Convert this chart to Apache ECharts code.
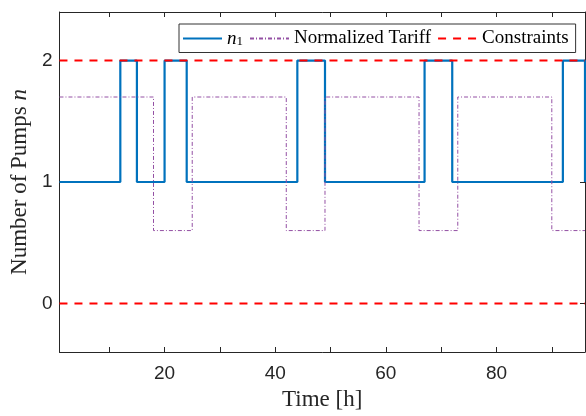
<!DOCTYPE html>
<html><head><meta charset="utf-8">
<script src="https://cdn.jsdelivr.net/npm/echarts@6/dist/echarts.min.js"></script>
<style>html,body{margin:0;padding:0;background:#fff}#c{width:586px;height:416px}</style>
</head><body><div id="c"></div>
<script>
// ---- data ----
const n1Times = [1, 12, 15, 20, 24, 44, 49, 67, 72, 92, 96];
const n1Values = [1, 2, 1, 2, 1, 2, 1, 2, 1, 2, 1];
const tariffTimes = [1, 18, 25, 42, 49, 66, 73, 90, 96];
const tariffValues = [1.7, 0.6, 1.7, 0.6, 1.7, 0.6, 1.7, 0.6, 0.6];
const constraintLevels = [2, 0];
const timeRange = [1, 96];
const yRange = [-0.4, 2.4];
const xTickValues = [10, 20, 30, 40, 50, 60, 70, 80, 90];
const xLabelValues = [20, 40, 60, 80];
const yTickValues = [0, 1, 2];
const seriesNames = ['n1', 'Normalized Tariff', 'Constraints'];

// ---- chart ----
const serif = '"Liberation Serif", "DejaVu Serif", serif';
const sans = '"Liberation Sans", Arial, sans-serif';
const axisColor = '#262626';

const zip = (xs, ys) => xs.map((x, i) => [x, ys[i]]);

const baseX = {
  type: 'value', min: timeRange[0], max: timeRange[1],
  axisLine: { show: true, onZero: false, lineStyle: { color: axisColor, width: 1 } },
  axisTick: { show: true, inside: true, length: 5, customValues: xTickValues, lineStyle: { color: axisColor } },
  splitLine: { show: false }
};
const baseY = {
  type: 'value', min: yRange[0], max: yRange[1],
  axisLine: { show: true, onZero: false, lineStyle: { color: axisColor, width: 1 } },
  axisTick: { show: true, inside: true, length: 5, customValues: yTickValues, lineStyle: { color: axisColor } },
  splitLine: { show: false }
};

const series = [
  {
    name: seriesNames[0], type: 'line', step: 'end', symbol: 'none',
    data: zip(n1Times, n1Values),
    lineStyle: { color: '#0072BD', width: 2.2 }, itemStyle: { color: '#0072BD' }, z: 2
  },
  {
    name: seriesNames[1], type: 'line', step: 'end', symbol: 'none',
    data: zip(tariffTimes, tariffValues),
    lineStyle: { color: '#9450A4', width: 1, type: [4, 2, 1, 2] }, itemStyle: { color: '#9450A4' }, z: 3
  }
];
constraintLevels.forEach(level => {
  series.push({
    name: seriesNames[2], type: 'line', symbol: 'none',
    data: [[timeRange[0], level], [timeRange[1], level]],
    lineStyle: { color: '#FF0000', width: 2, type: [8, 7] }, itemStyle: { color: '#FF0000' }, z: 4
  });
});

const option = {
  animation: false,
  backgroundColor: '#ffffff',
  grid: { left: 58, right: 1, top: 12, bottom: 60, containLabel: false },
  xAxis: [
    Object.assign({}, baseX, {
      position: 'bottom',
      axisLabel: { show: true, customValues: xLabelValues, margin: 12, color: axisColor, fontFamily: sans, fontSize: 19 },
      name: 'Time [h]', nameLocation: 'middle', nameGap: 36,
      nameTextStyle: { fontFamily: serif, fontSize: 23, color: axisColor }
    }),
    Object.assign({}, baseX, { position: 'top', axisLabel: { show: false } })
  ],
  yAxis: [
    Object.assign({}, baseY, {
      position: 'left',
      axisLabel: { show: true, customValues: yTickValues, margin: 7, color: axisColor, fontFamily: sans, fontSize: 19 },
      name: 'Number of Pumps {i|n}', nameLocation: 'middle', nameGap: 23,
      nameTextStyle: {
        fontFamily: serif, fontSize: 23, color: axisColor,
        rich: { i: { fontFamily: serif, fontSize: 23, fontStyle: 'italic', color: axisColor } }
      }
    }),
    Object.assign({}, baseY, { position: 'right', axisLabel: { show: false } })
  ],
  legend: {
    data: seriesNames,
    left: 179, top: 24,
    orient: 'horizontal',
    itemWidth: 39, itemHeight: 14, itemGap: 6,
    padding: [5, 7, 4, 3],
    borderColor: '#333333', borderWidth: 1, backgroundColor: '#ffffff',
    itemStyle: { opacity: 0 },
    textStyle: {
      fontFamily: serif, fontSize: 19, color: '#000',
      rich: {
        i: { fontFamily: serif, fontSize: 19, fontStyle: 'italic', color: '#000' },
        s: { fontFamily: serif, fontSize: 13, color: '#000', padding: [7, 0, 0, 0] },
        t: { fontFamily: serif, fontSize: 19, color: '#000' }
      }
    },
    formatter: name => name === 'n1' ? '{i|n}{s|1}' : '{t|' + name + '}'
  },
  series: series
};

const chart = echarts.init(document.getElementById('c'), null, { renderer: 'canvas' });
chart.setOption(option);
</script>
</body></html>
